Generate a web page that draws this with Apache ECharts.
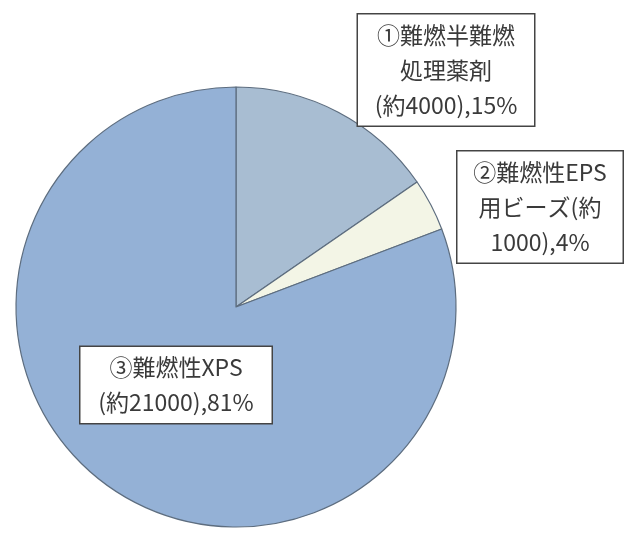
<!DOCTYPE html>
<html>
<head>
<meta charset="utf-8">
<script src="https://cdn.jsdelivr.net/npm/echarts@6/dist/echarts.min.js"></script>
<style>html,body{margin:0;padding:0;background:#fff;}#c{width:625px;height:534px;}</style>
</head>
<body>
<div id="c"></div>
<script>
const categories = ['①難燃半難燃\n処理薬剤\n(約4000),15%', '②難燃性EPS\n用ビーズ(約\n1000),4%', '③難燃性XPS\n(約21000),81%'];
const amounts = [4000, 1000, 21000];
const colors = ['#a8bdd2', '#f3f5e6', '#94b1d6'];

const labelBoxes = [
  {x: 446, y: 70, w: 158, h: 105},
  {x: 540, y: 207, w: 147, h: 105},
  {x: 176, y: 385, w: 173, h: 70}
];

const chart = echarts.init(document.getElementById('c'));
chart.setOption({
  backgroundColor: '#ffffff',
  animation: false,
  series: [{
    type: 'pie',
    center: [236, 307],
    radius: 220,
    startAngle: 90,
    clockwise: true,
    data: categories.map((n, i) => ({
      name: n, value: amounts[i],
      itemStyle: {color: colors[i]},
      label: {width: labelBoxes[i].w, height: labelBoxes[i].h}
    })),
    itemStyle: {borderColor: '#5d6d7f', borderWidth: 1.2},
    label: {
      show: true,
      formatter: '{b}',
      fontFamily: '"Noto Sans CJK JP", sans-serif',
      fontSize: 23,
      lineHeight: 35,
      color: '#3a3a3a',
      align: 'center',
      verticalAlign: 'middle',
      overflow: 'none',
      backgroundColor: '#ffffff',
      borderColor: '#444444',
      borderWidth: 1.5,
      padding: [3, 9, 3, 9]
    },
    labelLine: {show: false},
    labelLayout: function (p) {
      const b = labelBoxes[p.dataIndex];
      return {x: b.x, y: b.y, align: 'center', verticalAlign: 'middle', hideOverlap: false, moveOverlap: false};
    },
    emphasis: {disabled: true}
  }]
});
</script>
</body>
</html>
